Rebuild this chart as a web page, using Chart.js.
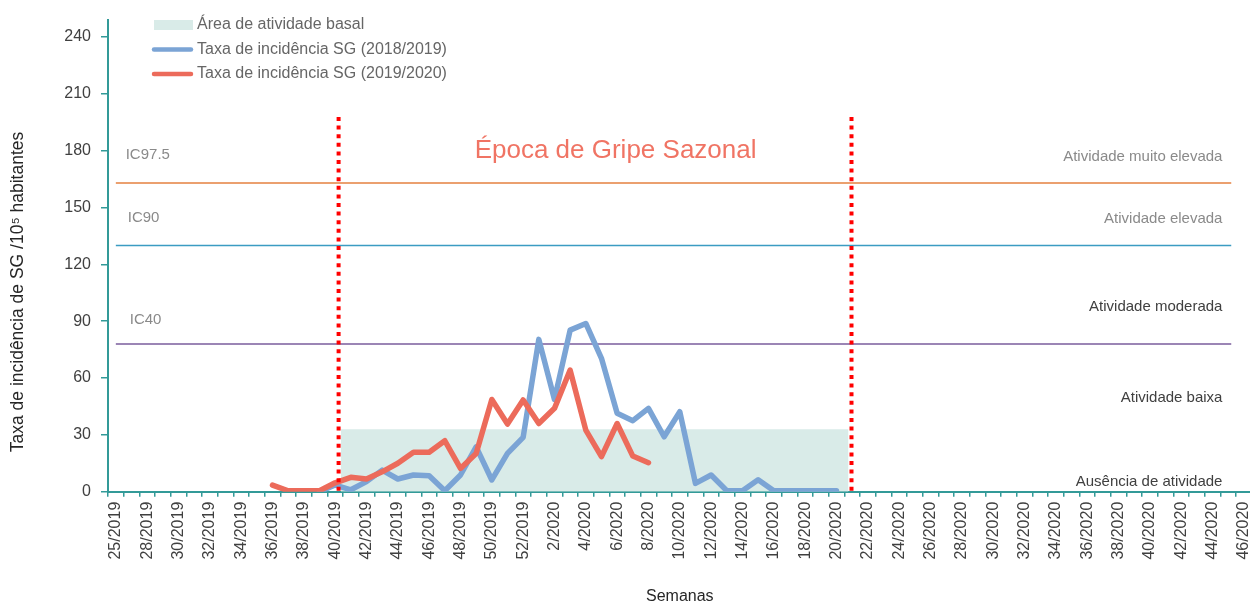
<!DOCTYPE html>
<html lang="pt">
<head>
<meta charset="UTF-8">
<title>Taxa de incidência de SG</title>
<script src="https://cdn.jsdelivr.net/npm/chart.js"></script>
<style>
  body { margin: 0; background: #fff; overflow: hidden; }
  #wrap { width: 1268px; height: 606px; }
</style>
</head>
<body>
<div id="wrap"><canvas id="sgChart" width="1268" height="606"></canvas></div>
<script>
// semanas (eixo x) - so as pares aparecem
const semanas = [
  '25/2019','26/2019','28/2019','29/2019','30/2019','31/2019','32/2019','33/2019','34/2019','35/2019',
  '36/2019','37/2019','38/2019','39/2019','40/2019','41/2019','42/2019','43/2019','44/2019','45/2019',
  '46/2019','47/2019','48/2019','49/2019','50/2019','51/2019','52/2019',
  '1/2020','2/2020','3/2020','4/2020','5/2020','6/2020','7/2020','8/2020','9/2020','10/2020',
  '11/2020','12/2020','13/2020','14/2020','15/2020','16/2020','17/2020','18/2020','19/2020','20/2020',
  '21/2020','22/2020','23/2020','24/2020','25/2020','26/2020','27/2020','28/2020','29/2020','30/2020',
  '31/2020','32/2020','33/2020','34/2020','35/2020','36/2020','37/2020','38/2020','39/2020','40/2020',
  '41/2020','42/2020','43/2020','44/2020','45/2020','46/2020'
];
const yTicks = [0, 30, 60, 90, 120, 150, 180, 210, 240];

// taxa de incidencia SG 2018/2019, a partir da semana 39/2019
const inicio1819 = '39/2019';
const sg1819 = [0, 3.5, 1, 5.3, 11.4, 6.7, 8.8, 8.4, 0.5, 8.8, 23.7, 6.2, 20.2, 28.7, 80.4, 48.7, 85.3,
  88.8, 70.4, 41.4, 37.5, 44, 29, 42.2, 4.4, 8.8, 0.5, 0.5, 6.3, 0.5, 0.5, 0.5, 0.5, 0.5];

// taxa de incidencia SG 2019/2020, a partir da semana 36/2019
const inicio1920 = '36/2019';
const sg1920 = [3.5, 0.5, 0.5, 0.5, 4.7, 7.6, 6.7, 10.5, 15, 20.8, 20.8, 26.9, 12.3, 20.2, 48.7, 35.7,
  48.4, 36, 44, 64.2, 32.5, 18.5, 36, 18.8, 15.3];

// limiares
const limiarNomes = ['IC97.5', 'IC90', 'IC40'];
const limiarValores = [163, 130, 78];
const limiarFim = 71.2;          // indice de semana onde as linhas acabam

// area de atividade basal e epoca de gripe
const basalNivel = 33;
const basalInicio = 14.37, basalFim = 46.77;
const epocaInicio = 14.22, epocaFim = 46.96, epocaTopo = 197.8;

const atividadeNomes = ['Atividade muito elevada', 'Atividade elevada', 'Atividade moderada', 'Atividade baixa', 'Ausência de atividade'];
const atividadeY = [176.9, 144.2, 97.4, 49.4, 5.1];

function serie(inicio, valores) {
  const out = new Array(semanas.length).fill(null);
  const i0 = semanas.indexOf(inicio);
  valores.forEach((v, i) => { out[i0 + i] = v; });
  return out;
}

const teal = '#339a98';
const azul = '#7ba4d5';
const vermelho = '#ec6b5b';
const basalCor = '#d9ebe8';
const limiarCores = ['#e5813f', '#3b9cc2', '#7a5c9d'];
const fonte = "'Liberation Sans', Arial, sans-serif";
Chart.defaults.font.family = fonte;

const datasets = [
  {
    label: 'Época', xAxisID: 'x2', data: [{x: epocaInicio, y: epocaTopo}, {x: epocaInicio, y: 0}],
    borderColor: '#ff0000', borderWidth: 4, borderDash: [4, 4.6], pointRadius: 0, order: 0
  },
  {
    label: '', xAxisID: 'x2', data: [{x: epocaFim, y: epocaTopo}, {x: epocaFim, y: 0}],
    borderColor: '#ff0000', borderWidth: 4, borderDash: [4, 4.6], pointRadius: 0, order: 0
  },
  {
    label: 'Taxa de incidência SG (2019/2020)', data: serie(inicio1920, sg1920),
    borderColor: vermelho, borderWidth: 5.5, pointRadius: 0, tension: 0,
    borderCapStyle: 'round', borderJoinStyle: 'round', order: 1
  },
  {
    label: 'Taxa de incidência SG (2018/2019)', data: serie(inicio1819, sg1819),
    borderColor: azul, borderWidth: 5.5, pointRadius: 0, tension: 0,
    borderCapStyle: 'round', borderJoinStyle: 'round', order: 2
  }
];
limiarValores.forEach((v, i) => {
  datasets.push({
    label: limiarNomes[i], xAxisID: 'x2', data: [{x: 0, y: v}, {x: limiarFim, y: v}],
    borderColor: limiarCores[i], borderWidth: 1.5, pointRadius: 0, order: 3
  });
});
datasets.push({
  label: 'Área de atividade basal', xAxisID: 'x2',
  data: [{x: basalInicio, y: basalNivel}, {x: basalFim, y: basalNivel}],
  borderWidth: 0, borderColor: 'rgba(0,0,0,0)', backgroundColor: basalCor, fill: 'origin', pointRadius: 0, order: 4
});

// textos e legenda desenhados por cima
const textos = {
  id: 'textos',
  afterDraw(chart) {
    const {ctx} = chart;
    const xs = chart.scales.x2, ys = chart.scales.y;
    ctx.save();
    ctx.textBaseline = 'middle';

    // Época de Gripe Sazonal
    ctx.font = '26px ' + fonte;
    ctx.fillStyle = '#f07464';
    ctx.textAlign = 'center';
    ctx.fillText('Época de Gripe Sazonal', xs.getPixelForValue(31.9), ys.getPixelForValue(180.2));

    // IC labels
    ctx.font = '15px ' + fonte;
    ctx.fillStyle = '#8a8a8a';
    ctx.textAlign = 'left';
    const icX = [0.63, 0.76, 0.89], icY = [177.6, 144.8, 90.6];
    limiarNomes.forEach((t, i) => ctx.fillText(t, xs.getPixelForValue(icX[i]), ys.getPixelForValue(icY[i])));

    // niveis de atividade
    ctx.textAlign = 'right';
    atividadeNomes.forEach((t, i) => {
      ctx.fillStyle = i < 2 ? '#8a8a8a' : '#404040';
      ctx.fillText(t, xs.getPixelForValue(70.64), ys.getPixelForValue(atividadeY[i]));
    });

    // titulo do eixo y
    ctx.save();
    ctx.translate(18, 292);
    ctx.rotate(-Math.PI / 2);
    ctx.textAlign = 'center';
    ctx.font = '17.5px ' + fonte;
    ctx.fillStyle = '#262626';
    ctx.fillText('Taxa de incidência de SG /10⁵ habitantes', 0, 0);
    ctx.restore();

    // legenda
    const ds = chart.data.datasets;
    const itens = [ds[ds.length - 1], ds[3], ds[2]];
    ctx.font = '16px ' + fonte;
    ctx.textAlign = 'left';
    itens.forEach((d, i) => {
      const y = 25 + i * 24.5;
      if (d.fill) {
        ctx.fillStyle = d.backgroundColor;
        ctx.fillRect(154, y - 5, 39, 10);
      } else {
        ctx.strokeStyle = d.borderColor;
        ctx.lineWidth = 4.5;
        ctx.lineCap = 'round';
        ctx.beginPath();
        ctx.moveTo(154, y);
        ctx.lineTo(191, y);
        ctx.stroke();
      }
      ctx.fillStyle = '#666666';
      ctx.fillText(d.label, 197, y);
    });
    ctx.restore();
  }
};

new Chart(document.getElementById('sgChart'), {
  type: 'line',
  data: { labels: semanas, datasets: datasets },
  options: {
    responsive: false,
    animation: false,
    layout: { padding: { top: 20, right: 4, left: 0, bottom: 0 } },
    plugins: { legend: { display: false }, tooltip: { enabled: false } },
    scales: {
      x: {
        type: 'category',
        offset: true,
        grid: { offset: true, drawOnChartArea: false, tickLength: 5, color: teal, lineWidth: 1.5 },
        border: { color: teal, width: 2 },
        ticks: {
          autoSkip: false, minRotation: 90, maxRotation: 90, padding: 5,
          color: '#404040', font: { size: 16 },
          callback: (v, i) => (i % 2 === 0 ? semanas[i] : '')
        },
        title: { display: true, text: 'Semanas', color: '#262626', font: { size: 16 }, padding: { top: 4, bottom: 0 } },
        afterFit: s => { s.height = 114.3; }
      },
      x2: { type: 'linear', min: -0.5, max: semanas.length - 0.5, display: false },
      y: {
        min: 0, max: 249,
        afterBuildTicks: s => { s.ticks = yTicks.map(v => ({ value: v })); },
        afterFit: s => { s.width = 108; },
        grid: { drawOnChartArea: false, tickLength: 7, color: teal, lineWidth: 1.5 },
        border: { color: teal, width: 2 },
        ticks: { padding: 10, color: '#404040', font: { size: 16 } }
      }
    }
  },
  plugins: [textos]
});
</script>
</body>
</html>
